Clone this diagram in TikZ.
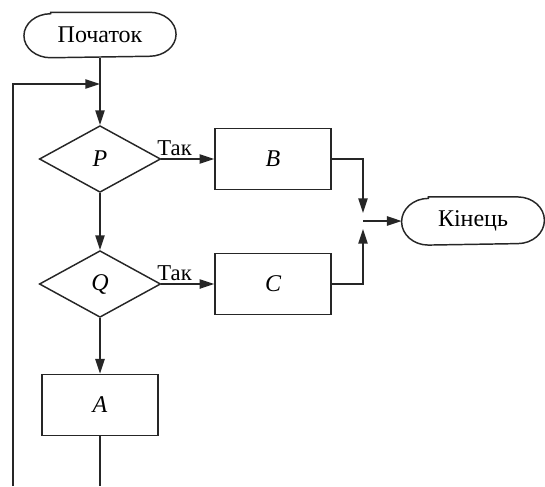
\documentclass[tikz,border=0pt]{standalone}
\usepackage{fontspec}
\setmainfont{Liberation Serif}
\usetikzlibrary{shapes.geometric,arrows.meta}
% outline of a terminal block: flat top and bottom, elliptic ends
\newcommand\terminalframe[2]{%
  \draw[flow] ([xshift=20pt]#1.north west) -- ([xshift=-20pt]#1.north east)
    arc[start angle=90, end angle=-90, x radius=20pt, y radius=#2]
    -- ([xshift=20pt]#1.south west)
    arc[start angle=270, end angle=90, x radius=20pt, y radius=#2] -- cycle;}
\begin{document}
\begin{tikzpicture}[x=0.75pt,y=-0.75pt,
  every node/.style={font=\fontsize{18}{21}\selectfont},
  flow/.style={line width=1.1pt, draw=black!85},
  terminal/.style={rectangle, minimum width=113pt, minimum height=33pt, inner sep=0pt, outer sep=0.55pt},
  decision/.style={flow, diamond, minimum width=91pt, minimum height=50pt, inner sep=0pt},
  process/.style={flow, rectangle, minimum width=87pt, minimum height=46pt, inner sep=0pt},
  link/.style={flow, -{Triangle[length=11pt,width=7pt]}},
  wire/.style={flow},
  yes/.style={font=\fontsize{17}{19}\selectfont, inner sep=1pt, above=1pt}
]
\useasboundingbox (0,0) rectangle (545,486);

% blocks
\node[terminal] (start) at (100,35) {Початок};
\terminalframe{start}{16.5pt}
\node[decision] (P) at (100,159) {\itshape P};
\node[decision] (Q) at (100,284) {\itshape Q};
\node[process] (B) at (273,159) {\itshape B};
\node[process] (C) at (273,284) {\itshape C};
\node[process] (A) at (100,405) {\itshape A};
\node[terminal, minimum width=106pt, minimum height=35pt] (end) at (473,221) {Кінець};
\terminalframe{end}{17.5pt}

% junctions and loose ends
\coordinate (jtop) at (100,84);
\coordinate (jright) at (363,221);
\coordinate (loopfoot) at (13,486);
\coordinate (Afoot) at (100,486);

% connectors
\draw[wire] (start) -- (jtop);
\draw[link] (jtop) -- (P.north);
\draw[link] (loopfoot) |- (jtop);
\draw[link] (P.east) -- node[pos=0.25, yes] {Так} (B.west);
\draw[link] (P.south) -- (Q.north);
\draw[link] (Q.east) -- node[pos=0.25, yes] {Так} (C.west);
\draw[link] (Q.south) -- (A.north);
\draw[wire] (A.south) -- (Afoot);
\draw[link, shorten >=6pt] (B.east) -| (jright);
\draw[link, shorten >=6pt] (C.east) -| (jright);
\draw[link] (jright) -- (end.west);
\end{tikzpicture}
\end{document}
